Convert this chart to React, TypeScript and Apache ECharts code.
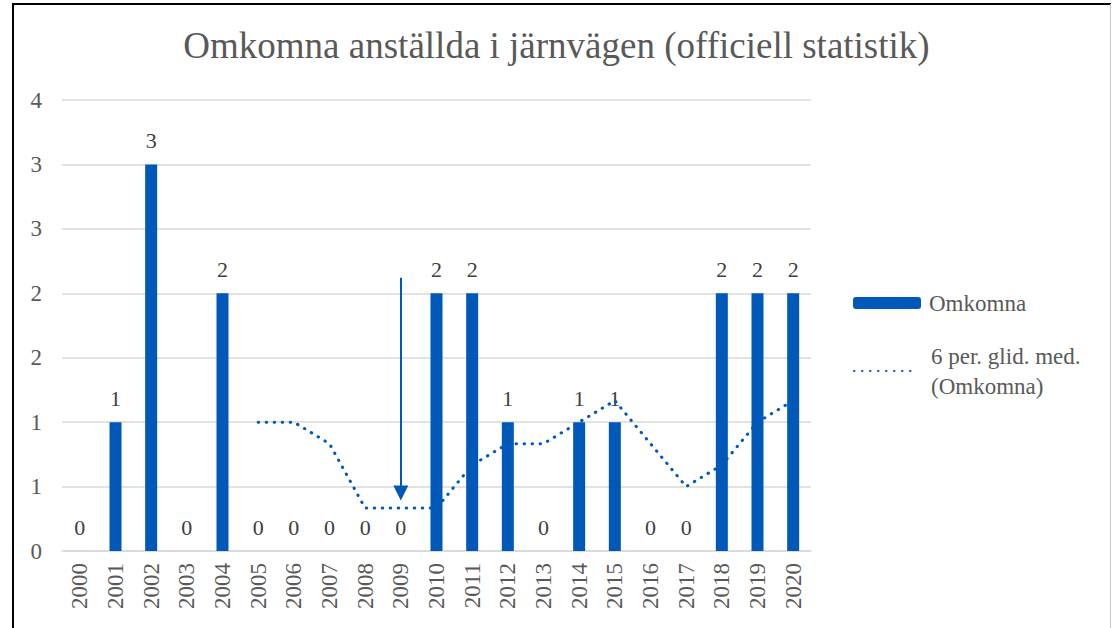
import React, { useEffect, useRef } from "react";
import * as echarts from "echarts";

const years = ["2000","2001","2002","2003","2004","2005","2006","2007","2008","2009","2010","2011","2012","2013","2014","2015","2016","2017","2018","2019","2020"];
const deaths = [0, 1, 3, 0, 2, 0, 0, 0, 0, 0, 2, 2, 1, 0, 1, 1, 0, 0, 2, 2, 2];
const movingAvg: (number | null)[] = [null, null, null, null, null, 1.0, 1.0, 0.833, 0.333, 0.333, 0.333, 0.667, 0.833, 0.833, 1.0, 1.167, 0.833, 0.5, 0.667, 1.0, 1.167];
const arrowYear = "2009";
const arrowFrom = 2.12;
const arrowTo = 0.45;

const BLUE = "#0059B9";
const FONT = '"Times New Roman", "Liberation Serif", serif';

export default function App() {
  const ref = useRef<HTMLDivElement>(null);
  useEffect(() => {
    if (!ref.current) return;
    const chart = echarts.init(ref.current, null, { renderer: "svg" });
    chart.setOption({
      animation: false,
      backgroundColor: "#ffffff",
      title: {
        text: "Omkomna anställda i järnvägen (officiell statistik)",
        left: "center",
        top: 27,
        padding: [0, 0, 0, 12],
        textStyle: { fontFamily: FONT, fontSize: 37, fontWeight: "normal", color: "#595959" },
      },
      legend: [
        {
          data: ["Omkomna"],
          orient: "vertical",
          left: 853,
          top: 288,
          padding: 0,
          itemWidth: 68,
          itemHeight: 12,
          itemGap: 0,
          textStyle: { fontFamily: FONT, fontSize: 23, color: "#595959", lineHeight: 30, padding: [0, 0, 0, 3] },
        },
        {
          data: ["6 per. glid. med. (Omkomna)"],
          orient: "vertical",
          left: 853,
          top: 326,
          padding: 0,
          itemWidth: 64,
          itemHeight: 12,
          itemStyle: { opacity: 0 },
          formatter: () => "6 per. glid. med.\n(Omkomna)",
          textStyle: { fontFamily: FONT, fontSize: 23, color: "#595959", lineHeight: 30, padding: [30, 0, 0, 8] },
        },
      ],
      grid: { left: 62, right: 302, top: 100, bottom: 77, containLabel: false },
      xAxis: {
        type: "category",
        data: years,
        axisTick: { show: false },
        axisLine: { lineStyle: { color: "#d9d9d9", width: 1.5 } },
        axisLabel: { rotate: 90, margin: 12, fontFamily: FONT, fontSize: 23, color: "#595959" },
      },
      yAxis: {
        type: "value",
        min: 0,
        max: 3.5,
        interval: 0.5,
        axisLine: { show: false },
        axisTick: { show: false },
        splitLine: { lineStyle: { color: "#d9d9d9", width: 1.5 } },
        axisLabel: {
          margin: 20,
          fontFamily: FONT,
          fontSize: 23,
          color: "#595959",
          formatter: (v: number) => String(Math.round(v)),
        },
      },
      series: [
        {
          name: "Omkomna",
          type: "bar",
          data: deaths,
          barWidth: 12,
          itemStyle: { color: BLUE },
          label: {
            show: true,
            position: "top",
            distance: 13,
            fontFamily: FONT,
            fontSize: 22,
            color: "#404040",
          },
          markLine: {
            silent: true,
            symbol: ["none", "triangle"],
            symbolSize: [15, 15],
            label: { show: false },
            lineStyle: { color: BLUE, width: 2, type: "solid" },
            data: [[{ coord: [arrowYear, arrowFrom] }, { coord: [arrowYear, arrowTo] }]],
          },
        },
        {
          name: "6 per. glid. med. (Omkomna)",
          type: "line",
          data: movingAvg,
          symbol: "none",
          showSymbol: false,
          lineStyle: { color: BLUE, width: 3, type: [0.5, 7.5], cap: "round" },
          itemStyle: { color: BLUE },
        },
      ],
      graphic: [
        { type: "line", shape: { x1: 13, y1: 3, x2: 13, y2: 628 }, style: { stroke: "#000", lineWidth: 2 } },
        { type: "line", shape: { x1: 12, y1: 4, x2: 1111, y2: 4 }, style: { stroke: "#000", lineWidth: 2 } },
        { type: "line", shape: { x1: 1110.5, y1: 4, x2: 1110.5, y2: 628 }, style: { stroke: "#c8c8c8", lineWidth: 1 } },
      ],
    });
    return () => chart.dispose();
  }, []);
  return <div ref={ref} style={{ position: "fixed", left: 0, top: 0, width: 1113, height: 628 }} />;
}
